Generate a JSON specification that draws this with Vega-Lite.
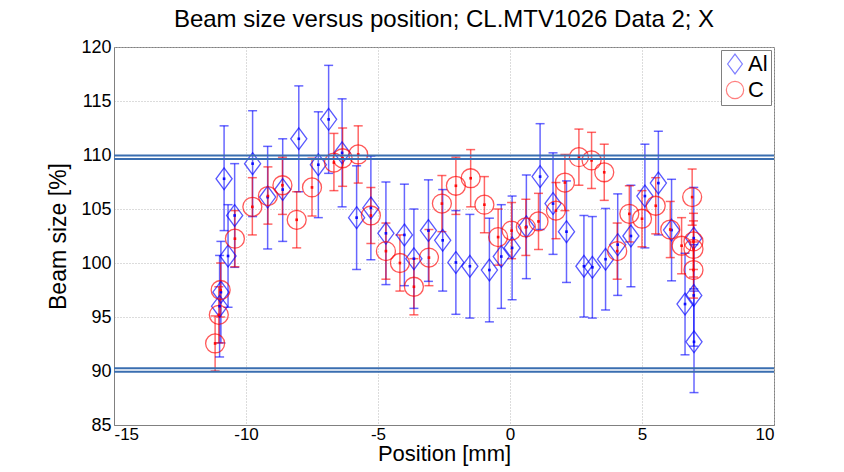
{
  "$schema": "https://vega.github.io/schema/vega-lite/v6.json",
  "width": 660,
  "height": 378,
  "autosize": "none",
  "padding": {"left": 114, "top": 47, "right": 70, "bottom": 47},
  "background": "white",
  "title": {"text": "Beam size versus position; CL.MTV1026 Data 2; X", "font": "Liberation Sans", "fontSize": 24, "fontWeight": "normal", "color": "black", "offset": 6},
  "datasets": {
    "lines": [{"y": 109.95}, {"y": 109.62}, {"y": 90.25}, {"y": 89.93}],
    "pts": [
      {"series": "Al", "x": -11.0, "y": 96.0, "lo": 91.3, "hi": 100.7},
      {"series": "Al", "x": -10.95, "y": 97.3, "lo": 92.6, "hi": 102.0},
      {"series": "Al", "x": -10.83, "y": 107.8, "lo": 103.0, "hi": 112.7},
      {"series": "Al", "x": -10.68, "y": 100.65, "lo": 95.9, "hi": 105.4},
      {"series": "Al", "x": -10.43, "y": 104.4, "lo": 99.6, "hi": 109.2},
      {"series": "Al", "x": -9.75, "y": 109.2, "lo": 104.3, "hi": 114.1},
      {"series": "Al", "x": -9.18, "y": 106.1, "lo": 101.3, "hi": 110.8},
      {"series": "Al", "x": -8.61, "y": 106.8, "lo": 102.0, "hi": 111.5},
      {"series": "Al", "x": -8.0, "y": 111.5, "lo": 106.6, "hi": 116.4},
      {"series": "Al", "x": -7.26, "y": 109.1, "lo": 104.2, "hi": 114.0},
      {"series": "Al", "x": -6.87, "y": 113.3, "lo": 108.3, "hi": 118.3},
      {"series": "Al", "x": -6.36, "y": 110.2, "lo": 105.2, "hi": 115.2},
      {"series": "Al", "x": -5.81, "y": 104.2, "lo": 99.4, "hi": 109.0},
      {"series": "Al", "x": -5.27, "y": 105.1, "lo": 100.3, "hi": 109.9},
      {"series": "Al", "x": -4.7, "y": 102.75, "lo": 98.0, "hi": 107.5},
      {"series": "Al", "x": -4.0, "y": 102.6, "lo": 97.9, "hi": 107.3},
      {"series": "Al", "x": -3.64, "y": 100.4, "lo": 95.8, "hi": 105.0},
      {"series": "Al", "x": -3.09, "y": 103.0, "lo": 98.3, "hi": 107.7},
      {"series": "Al", "x": -2.55, "y": 102.1, "lo": 97.4, "hi": 106.8},
      {"series": "Al", "x": -2.05, "y": 100.05, "lo": 95.25, "hi": 104.85},
      {"series": "Al", "x": -1.52, "y": 99.7, "lo": 94.9, "hi": 104.5},
      {"series": "Al", "x": -0.78, "y": 99.35, "lo": 94.55, "hi": 104.15},
      {"series": "Al", "x": -0.33, "y": 100.6, "lo": 95.8, "hi": 105.4},
      {"series": "Al", "x": 0.08, "y": 101.4, "lo": 96.6, "hi": 106.2},
      {"series": "Al", "x": 0.62, "y": 103.35, "lo": 98.55, "hi": 108.15},
      {"series": "Al", "x": 1.14, "y": 108.0, "lo": 103.1, "hi": 112.9},
      {"series": "Al", "x": 1.63, "y": 105.5, "lo": 100.8, "hi": 110.2},
      {"series": "Al", "x": 2.14, "y": 102.9, "lo": 98.2, "hi": 107.6},
      {"series": "Al", "x": 2.8, "y": 99.7, "lo": 95.0, "hi": 104.4},
      {"series": "Al", "x": 3.12, "y": 99.6, "lo": 94.9, "hi": 104.3},
      {"series": "Al", "x": 3.62, "y": 100.35, "lo": 95.65, "hi": 105.05},
      {"series": "Al", "x": 4.08, "y": 101.7, "lo": 97.0, "hi": 106.4},
      {"series": "Al", "x": 4.58, "y": 102.5, "lo": 97.8, "hi": 107.2},
      {"series": "Al", "x": 5.11, "y": 106.2, "lo": 101.4, "hi": 111.0},
      {"series": "Al", "x": 5.62, "y": 107.4, "lo": 102.6, "hi": 112.2},
      {"series": "Al", "x": 6.12, "y": 103.05, "lo": 98.35, "hi": 107.75},
      {"series": "Al", "x": 6.63, "y": 96.2, "lo": 91.5, "hi": 100.9},
      {"series": "Al", "x": 6.96, "y": 97.0, "lo": 92.3, "hi": 101.7},
      {"series": "Al", "x": 6.97, "y": 92.7, "lo": 88.0, "hi": 97.4},
      {"series": "Al", "x": 6.96, "y": 102.3, "lo": 97.6, "hi": 107.0},
      {"series": "C", "x": -11.17, "y": 92.55, "lo": 90.0, "hi": 95.1},
      {"series": "C", "x": -11.03, "y": 95.2, "lo": 92.6, "hi": 97.8},
      {"series": "C", "x": -10.96, "y": 97.5, "lo": 95.0, "hi": 100.0},
      {"series": "C", "x": -10.42, "y": 102.25, "lo": 99.65, "hi": 104.85},
      {"series": "C", "x": -9.76, "y": 105.2, "lo": 102.6, "hi": 107.9},
      {"series": "C", "x": -9.17, "y": 106.2, "lo": 103.6, "hi": 108.9},
      {"series": "C", "x": -8.62, "y": 107.2, "lo": 104.5, "hi": 109.8},
      {"series": "C", "x": -8.08, "y": 104.0, "lo": 101.4, "hi": 106.6},
      {"series": "C", "x": -7.5, "y": 107.0, "lo": 104.35, "hi": 109.7},
      {"series": "C", "x": -6.67, "y": 109.3, "lo": 106.7, "hi": 112.0},
      {"series": "C", "x": -6.34, "y": 109.7, "lo": 107.1, "hi": 112.5},
      {"series": "C", "x": -5.75, "y": 110.05, "lo": 107.4, "hi": 112.7},
      {"series": "C", "x": -5.27, "y": 104.4, "lo": 101.8, "hi": 107.0},
      {"series": "C", "x": -4.7, "y": 101.1, "lo": 98.5, "hi": 103.7},
      {"series": "C", "x": -4.17, "y": 100.0, "lo": 97.4, "hi": 102.6},
      {"series": "C", "x": -3.64, "y": 97.8, "lo": 95.2, "hi": 100.4},
      {"series": "C", "x": -3.07, "y": 100.5, "lo": 97.9, "hi": 103.1},
      {"series": "C", "x": -2.58, "y": 105.5, "lo": 102.9, "hi": 108.1},
      {"series": "C", "x": -2.05, "y": 107.15, "lo": 104.5, "hi": 109.8},
      {"series": "C", "x": -1.49, "y": 107.85, "lo": 105.2, "hi": 110.5},
      {"series": "C", "x": -0.97, "y": 105.4, "lo": 102.8, "hi": 108.0},
      {"series": "C", "x": -0.45, "y": 102.4, "lo": 99.8, "hi": 105.0},
      {"series": "C", "x": 0.06, "y": 103.0, "lo": 100.4, "hi": 105.6},
      {"series": "C", "x": 0.6, "y": 103.3, "lo": 100.7, "hi": 105.9},
      {"series": "C", "x": 1.08, "y": 103.85, "lo": 101.25, "hi": 106.45},
      {"series": "C", "x": 1.74, "y": 104.85, "lo": 102.25, "hi": 107.45},
      {"series": "C", "x": 2.08, "y": 107.45, "lo": 104.85, "hi": 110.05},
      {"series": "C", "x": 2.61, "y": 109.8, "lo": 107.2, "hi": 112.4},
      {"series": "C", "x": 3.09, "y": 109.5, "lo": 106.9, "hi": 112.1},
      {"series": "C", "x": 3.57, "y": 108.4, "lo": 105.8, "hi": 111.0},
      {"series": "C", "x": 4.06, "y": 101.1, "lo": 98.5, "hi": 103.7},
      {"series": "C", "x": 4.52, "y": 104.55, "lo": 101.95, "hi": 107.15},
      {"series": "C", "x": 5.0, "y": 104.1, "lo": 101.5, "hi": 106.7},
      {"series": "C", "x": 5.52, "y": 105.3, "lo": 102.7, "hi": 107.9},
      {"series": "C", "x": 6.07, "y": 103.1, "lo": 100.5, "hi": 105.7},
      {"series": "C", "x": 6.5, "y": 101.6, "lo": 99.0, "hi": 104.2},
      {"series": "C", "x": 6.9, "y": 106.1, "lo": 103.5, "hi": 108.7},
      {"series": "C", "x": 6.95, "y": 102.0, "lo": 99.4, "hi": 104.6},
      {"series": "C", "x": 6.95, "y": 101.3, "lo": 98.7, "hi": 103.9},
      {"series": "C", "x": 6.95, "y": 99.35, "lo": 96.75, "hi": 101.95}
    ]
  },
  "layer": [
    {
      "data": {"name": "pts"},
      "mark": {"type": "rule", "strokeWidth": 1.5, "opacity": 0.6},
      "encoding": {
        "x": {"field": "x", "type": "quantitative", "scale": {"domain": [-15, 10], "nice": false},
          "axis": {"values": [-15, -10, -5, 0, 5, 10], "labelExpr": "replace(datum.label, '\u2212', '-')", "title": "Position [mm]", "titleFontSize": 22, "titleFontWeight": "normal", "titlePadding": 1, "labelFontSize": 17, "labelPadding": 1, "tickSize": 0, "grid": true, "gridDash": [1, 2], "gridColor": "#b8b8b8", "domainColor": "#808080", "labelColor": "black", "titleColor": "black", "labelFont": "Liberation Sans", "titleFont": "Liberation Sans"}},
        "y": {"field": "lo", "type": "quantitative", "scale": {"domain": [85, 120], "nice": false},
          "axis": {"values": [85, 90, 95, 100, 105, 110, 115, 120], "title": "Beam size [%]", "titleFontSize": 23, "titleFontWeight": "normal", "titlePadding": 10, "labelFontSize": 18, "labelPadding": 3, "tickSize": 0, "grid": true, "gridDash": [1, 2], "gridColor": "#b8b8b8", "domainColor": "#808080", "labelColor": "black", "titleColor": "black", "labelFont": "Liberation Sans", "titleFont": "Liberation Sans"}},
        "y2": {"field": "hi"},
        "color": {"condition": {"test": "datum.series === 'Al'", "value": "#0000ff"}, "value": "#ff0000"}
      }
    },
    {
      "data": {"name": "pts"},
      "mark": {"type": "tick", "orient": "horizontal", "size": 9, "thickness": 1.5, "opacity": 0.6},
      "encoding": {
        "x": {"field": "x", "type": "quantitative"},
        "y": {"field": "lo", "type": "quantitative"},
        "color": {"condition": {"test": "datum.series === 'Al'", "value": "#0000ff"}, "value": "#ff0000"}
      }
    },
    {
      "data": {"name": "pts"},
      "mark": {"type": "tick", "orient": "horizontal", "size": 9, "thickness": 1.5, "opacity": 0.6},
      "encoding": {
        "x": {"field": "x", "type": "quantitative"},
        "y": {"field": "hi", "type": "quantitative"},
        "color": {"condition": {"test": "datum.series === 'Al'", "value": "#0000ff"}, "value": "#ff0000"}
      }
    },
    {
      "data": {"name": "pts"},
      "mark": {"type": "point", "filled": false, "strokeWidth": 1.3, "opacity": 0.65},
      "encoding": {
        "x": {"field": "x", "type": "quantitative"},
        "y": {"field": "y", "type": "quantitative"},
        "color": {"field": "series", "type": "nominal", "scale": {"domain": ["Al", "C"], "range": ["#0000ff", "#ff0000"]}, "title": null},
        "shape": {"field": "series", "type": "nominal", "scale": {"domain": ["Al", "C"], "range": ["M0,-1.15L0.85,0L0,1.15L-0.85,0Z", "circle"]}, "title": null},
        "size": {"value": 360}
      }
    },
    {
      "data": {"name": "pts"},
      "mark": {"type": "point", "filled": true, "shape": "square", "size": 7, "opacity": 0.9},
      "encoding": {
        "x": {"field": "x", "type": "quantitative"},
        "y": {"field": "y", "type": "quantitative"},
        "color": {"condition": {"test": "datum.series === 'Al'", "value": "#0000ff"}, "value": "#ff0000"}
      }
    },
    {
      "data": {"name": "lines"},
      "mark": {"type": "rule", "color": "#3a6eb0", "strokeWidth": 2},
      "encoding": {
        "y": {"field": "y", "type": "quantitative"}
      }
    }
  ],
  "config": {
    "font": "Liberation Sans",
    "view": {"stroke": "#808080", "strokeWidth": 1},
    "legend": {"orient": "top-right", "offset": 3, "padding": 3, "strokeColor": "#808080", "fillColor": "white", "labelFontSize": 22, "labelColor": "black", "symbolSize": 300, "symbolOpacity": 0.5, "symbolStrokeWidth": 1.2, "rowPadding": 1, "labelOffset": 2, "symbolOffset": 0, "labelFont": "Liberation Sans"}
  }
}
